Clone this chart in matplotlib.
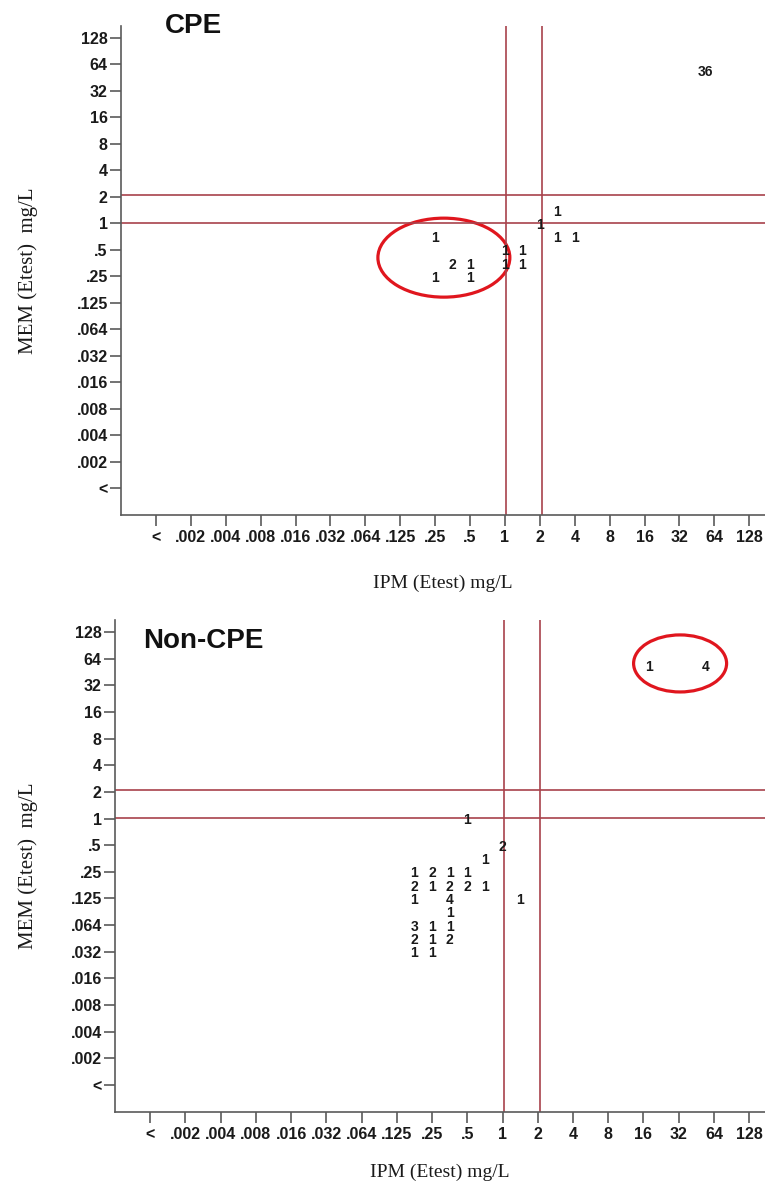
import numpy as np
import matplotlib
matplotlib.use("Agg")
import matplotlib.pyplot as plt
from matplotlib.patches import Ellipse

# MIC categories on both axes (log2 steps, "<" = below range)
tick_labels = ['<', '.002', '.004', '.008', '.016', '.032', '.064', '.125', '.25',
               '.5', '1', '2', '4', '8', '16', '32', '64', '128']

# CPE isolates: IPM MIC, MEM MIC, number of isolates
cpe_ipm = [3, 2, 3, 4, 0.25, 1, 1.5, 1, 1.5, 0.38, 0.5, 0.25, 0.5, 54]
cpe_mem = [1.5, 1, 0.75, 0.75, 0.75, 0.5, 0.5, 0.38, 0.38, 0.38, 0.38, 0.25, 0.25, 54]
cpe_n = [1, 1, 1, 1, 1, 1, 1, 1, 1, 2, 1, 1, 1, 36]

# Non-CPE isolates
non_ipm = [0.5, 1, 0.75,
           0.19, 0.25, 0.38, 0.5,
           0.19, 0.25, 0.38, 0.5, 0.75,
           0.19, 0.38, 1.5,
           0.38,
           0.19, 0.25, 0.38,
           0.19, 0.25, 0.38,
           0.19, 0.25,
           18, 54]
non_mem = [1, 0.5, 0.38,
           0.25, 0.25, 0.25, 0.25,
           0.19, 0.19, 0.19, 0.19, 0.19,
           0.125, 0.125, 0.125,
           0.094,
           0.064, 0.064, 0.064,
           0.047, 0.047, 0.047,
           0.032, 0.032,
           54, 54]
non_n = [1, 2, 1,
         1, 2, 1, 1,
         2, 1, 2, 2, 1,
         1, 4, 1,
         1,
         3, 1, 1,
         2, 1, 2,
         1, 1,
         1, 4]

# breakpoint reference lines (mg/L)
ref_lines = [1.02, 2.1]


def pos(v):
    # category index: 1 mg/L sits on tick 10; Etest half dilutions
    # (.19, .38, .75, 1.5, 3 ...) sit halfway between two ticks
    lv = np.log2(np.asarray(v, dtype=float))
    lv = np.where(np.asarray(v) < 16, np.round(lv * 2) / 2, lv)
    return lv + 10


fig = plt.figure(figsize=(7.65, 11.92), dpi=100)

panels = [
    ([121 / 765, 1 - 515 / 1192, 644 / 765, 489 / 1192], 'CPE', cpe_ipm, cpe_mem, cpe_n,
     (8.25, 8.71, 3.78, 2.98), (0.068, 1.0), -0.139, -0.144),
    ([115 / 765, 1 - 1111.7 / 1192, 650 / 765, 491.7 / 1192], 'Non-CPE', non_ipm, non_mem, non_n,
     (15.04, 15.82, 2.64, 2.14), (0.043, 0.957), -0.123, -0.134),
]

spine_col = '#5a5a5a'
ref_col = '#a8424c'

for rect, title, xs, ys, ns, ell, tpos, xl_y, yl_x in panels:
    ax = fig.add_axes(rect)
    ax.set_xlim(-1, 17.45)
    ax.set_ylim(-1, 17.45)
    for s in ['top', 'right']:
        ax.spines[s].set_visible(False)
    for s in ['left', 'bottom']:
        ax.spines[s].set_color(spine_col)
        ax.spines[s].set_linewidth(1.2)

    ax.set_xticks(np.arange(len(tick_labels)))
    ax.set_yticks(np.arange(len(tick_labels)))
    ax.set_xticklabels(tick_labels)
    ax.set_yticklabels(tick_labels)
    ax.tick_params(axis='both', direction='out', length=8, width=1.2, color=spine_col,
                   labelsize=11.5)
    ax.tick_params(axis='x', pad=3)
    ax.tick_params(axis='y', pad=1.5)
    for lab in ax.get_xticklabels() + ax.get_yticklabels():
        lab.set_fontweight('bold')
        lab.set_fontfamily('Liberation Sans')
        lab.set_color('#1a1a1a')

    for r in ref_lines:
        ax.axvline(np.log2(r) + 10, color=ref_col, lw=1.2)
        ax.axhline(np.log2(r) + 10, color=ref_col, lw=1.2)

    px = pos(xs)
    py = pos(ys)
    for x, y, n in zip(px, py, ns):
        ax.text(x, y, str(n), ha='center', va='center_baseline', fontsize=10,
                fontweight='bold', family='Liberation Sans', color='#1a1a1a')

    cx, cy, w, h = ell
    ax.add_patch(Ellipse((cx, cy), w, h, fill=False, edgecolor='#e0161e', lw=2.3))

    ax.text(tpos[0], tpos[1], title, transform=ax.transAxes, ha='left', va='center',
            fontsize=20, fontweight='bold', family='Liberation Sans', color='#111111')

    ax.set_xlabel('IPM (Etest) mg/L', family='Liberation Serif', fontsize=14,
                  va='center', color='#1a1a1a')
    ax.xaxis.set_label_coords(0.5, xl_y)
    ax.set_ylabel('MEM (Etest)  mg/L', family='Liberation Serif', fontsize=15,
                  va='center', color='#1a1a1a')
    ax.yaxis.set_label_coords(yl_x, 0.5)

fig.savefig('out.png', dpi=100)
